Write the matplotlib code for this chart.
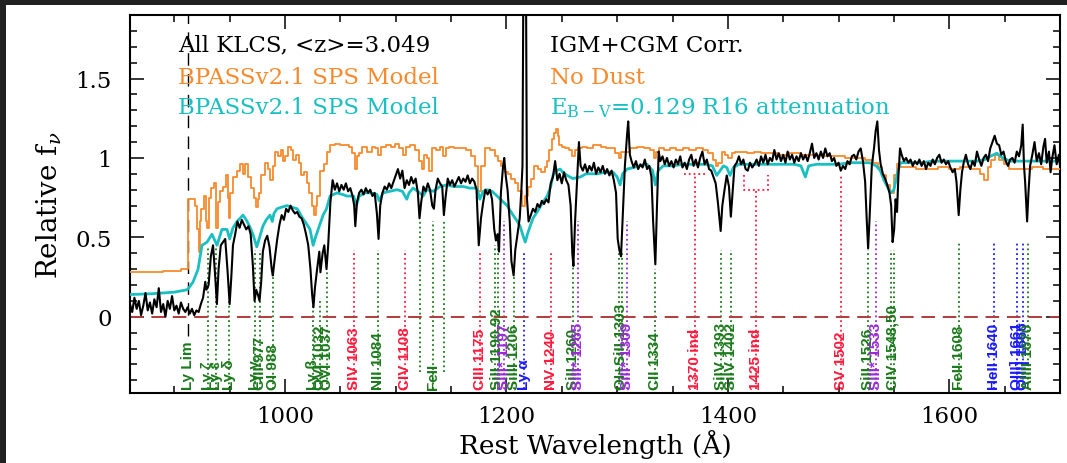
import numpy as np
import matplotlib
matplotlib.use("Agg")
import matplotlib.pyplot as plt
from matplotlib.patches import Rectangle
from matplotlib.ticker import MultipleLocator

plt.rcParams['font.family'] = 'DejaVu Serif'
plt.rcParams['mathtext.fontset'] = 'dejavuserif'

# composite spectrum (IGM+CGM corrected)
wl_obs = [860, 862, 864, 866, 868, 870, 872, 874, 876, 878, 880, 882, 884, 886, 888, 890, 892, 894, 896, 898,
          900, 902, 904, 906, 908, 910, 912, 914, 916, 918, 920, 922, 924, 926, 928, 929, 931, 933, 935, 937,
          938.5, 940, 942, 944, 946, 948, 950, 951.5, 953, 955, 957, 959, 961, 963, 965, 967, 969, 971, 972.5, 974,
          975.5, 977, 978.5, 980, 982, 984, 986, 988, 989, 991, 993, 995, 997, 999, 1001, 1003, 1005, 1007, 1009, 1011,
          1013, 1015, 1017, 1019, 1021, 1023, 1024.5, 1025.7, 1027, 1029, 1031, 1032, 1034, 1035.5, 1037.5, 1039, 1041, 1043, 1045, 1047,
          1049, 1051, 1053, 1055, 1057, 1059, 1061, 1062.5, 1063.5, 1065, 1067, 1069, 1071, 1073, 1075, 1077, 1079, 1081, 1083, 1084.5,
          1086, 1088, 1090, 1092, 1094, 1096, 1098, 1100, 1102, 1104, 1106, 1108, 1110, 1112, 1114, 1116, 1118, 1120, 1121.5, 1123,
          1125, 1127, 1129, 1131, 1133, 1134.5, 1136, 1138, 1140, 1142, 1143.5, 1145, 1147, 1149, 1151, 1153, 1155, 1157, 1159, 1161,
          1163, 1165, 1167, 1169, 1171, 1173, 1175, 1177, 1179, 1181, 1183, 1185, 1187, 1189, 1190.5, 1192, 1193.3, 1195, 1197, 1198,
          1199.5, 1201, 1203, 1204.5, 1206.5, 1208, 1210, 1212, 1213.5, 1214.5, 1215.5, 1217.5, 1218.5, 1220, 1222, 1224, 1226, 1228, 1230, 1232,
          1234, 1236, 1238, 1240, 1242, 1244, 1246, 1248, 1250, 1252, 1254, 1256, 1258, 1259.5, 1260.5, 1262, 1264, 1265.5, 1267, 1269,
          1271, 1273, 1275, 1277, 1279, 1281, 1283, 1285, 1287, 1289, 1291, 1293, 1295, 1297, 1299, 1300.5, 1302, 1303.5, 1305, 1307,
          1309, 1310, 1311.5, 1313, 1315, 1317, 1319, 1321, 1323, 1325, 1327, 1329, 1331, 1332.5, 1334.5, 1336, 1337.5, 1339, 1341, 1343,
          1345, 1347, 1349, 1351, 1353, 1355, 1357, 1359, 1361, 1363, 1365, 1367, 1369, 1371, 1373, 1375, 1377, 1379, 1381, 1383,
          1385, 1387, 1389, 1391, 1393.5, 1395, 1397, 1399, 1401, 1402.7, 1404.5, 1406, 1408, 1410, 1412, 1414, 1416, 1418, 1420, 1422,
          1424, 1426, 1428, 1430, 1432, 1434, 1436, 1438, 1440, 1442, 1444, 1446, 1448, 1450, 1452, 1454, 1456, 1458, 1460, 1462,
          1464, 1466, 1468, 1470, 1472, 1474, 1476, 1478, 1480, 1482, 1484, 1486, 1488, 1490, 1492, 1494, 1496, 1498, 1500, 1502,
          1504, 1506, 1508, 1510, 1512, 1514, 1516, 1518, 1520, 1522, 1524, 1525.5, 1526.7, 1528, 1530, 1532, 1533.5, 1535, 1536.5, 1538,
          1540, 1542, 1544, 1546, 1547.5, 1548.8, 1550.2, 1551.5, 1552.8, 1554, 1555.5, 1557, 1559, 1561, 1563, 1565, 1567, 1569, 1571, 1573,
          1575, 1577, 1579, 1581, 1583, 1585, 1587, 1589, 1591, 1593, 1595, 1597, 1599, 1601, 1603, 1605, 1606.5, 1608.5, 1610, 1611.5,
          1613, 1615, 1617, 1619, 1621, 1623, 1625, 1627, 1629, 1631, 1633, 1635, 1637, 1639, 1641, 1643, 1645, 1647, 1649, 1651,
          1653, 1655, 1657, 1659, 1661, 1663, 1665, 1666.3, 1667.5, 1668.5, 1670.3, 1671.5, 1673, 1675, 1677, 1679, 1681, 1683, 1685, 1686.5,
          1688, 1690, 1691.5, 1693, 1695, 1697, 1699, 1700]
f_obs = [0.08, 0.03, 0.12, 0.05, 0.10, 0.01, 0.07, 0.15, 0.04, 0.09, 0.02, 0.11, 0.06, 0.18, 0.03, 0.08, 0.00, 0.10, 0.05, 0.13,
         0.04, 0.07, 0.02, 0.09, 0.05, 0.03, 0.06, 0.02, 0.05, 0.01, 0.04, 0.03, 0.08, 0.12, 0.22, 0.17, 0.20, 0.38, 0.45, 0.25,
         0.08, 0.30, 0.45, 0.47, 0.49, 0.30, 0.08, 0.25, 0.45, 0.52, 0.60, 0.56, 0.61, 0.58, 0.55, 0.57, 0.52, 0.32, 0.10, 0.17,
         0.14, 0.10, 0.22, 0.41, 0.48, 0.51, 0.44, 0.30, 0.26, 0.38, 0.49, 0.58, 0.64, 0.61, 0.68, 0.66, 0.70, 0.67, 0.65, 0.66,
         0.63, 0.62, 0.58, 0.52, 0.45, 0.30, 0.14, 0.06, 0.18, 0.30, 0.41, 0.28, 0.40, 0.45, 0.30, 0.45, 0.72, 0.86, 0.80, 0.84,
         0.79, 0.83, 0.80, 0.84, 0.79, 0.81, 0.76, 0.70, 0.57, 0.72, 0.78, 0.80, 0.77, 0.81, 0.78, 0.80, 0.76, 0.78, 0.65, 0.49,
         0.70, 0.78, 0.82, 0.80, 0.84, 0.81, 0.85, 0.89, 0.93, 0.87, 0.92, 0.81, 0.86, 0.83, 0.88, 0.84, 0.87, 0.78, 0.62, 0.72,
         0.82, 0.79, 0.84, 0.80, 0.70, 0.68, 0.80, 0.87, 0.84, 0.82, 0.64, 0.75, 0.87, 0.83, 0.86, 0.82, 0.85, 0.88, 0.84, 0.87,
         0.85, 0.89, 0.84, 0.87, 0.85, 0.80, 0.45, 0.62, 0.72, 0.80, 0.77, 0.80, 0.74, 0.55, 0.48, 0.52, 0.41, 0.78, 0.95, 1.00,
         0.88, 0.80, 0.60, 0.35, 0.26, 0.42, 0.52, 0.62, 0.80, 0.95, 2.40, 2.40, 0.75, 0.60, 0.64, 0.68, 0.66, 0.71, 0.69, 0.73,
         0.71, 0.74, 0.72, 0.84, 0.88, 0.98, 0.86, 0.90, 0.84, 0.91, 0.86, 0.83, 0.70, 0.40, 0.32, 0.60, 0.88, 1.10, 0.95, 0.92,
         0.96, 0.91, 0.95, 0.92, 0.97, 0.90, 0.94, 0.91, 0.95, 0.90, 0.93, 0.89, 0.92, 0.86, 0.78, 0.49, 0.42, 0.38, 0.62, 0.95,
         1.15, 1.23, 1.02, 0.98, 0.94, 0.98, 0.93, 0.96, 0.94, 0.99, 0.93, 0.95, 0.88, 0.60, 0.33, 0.70, 1.04, 0.98, 1.01, 0.96,
         1.00, 0.95, 0.98, 0.94, 0.99, 0.96, 1.01, 0.94, 0.97, 0.93, 0.99, 1.02, 0.95, 0.99, 0.94, 1.00, 1.04, 0.96, 0.99, 0.93,
         0.92, 0.88, 0.84, 0.72, 0.54, 0.70, 0.80, 0.89, 0.82, 0.63, 0.80, 0.95, 0.97, 1.01, 0.96, 0.99, 0.93, 0.92, 0.97, 0.94,
         0.96, 0.99, 0.95, 1.01, 0.97, 1.02, 0.96, 1.00, 0.98, 1.05, 0.99, 1.03, 0.98, 1.02, 0.97, 1.04, 0.99, 1.02, 0.97, 1.01,
         0.98, 1.03, 0.99, 1.02, 0.98, 1.03, 1.09, 1.00, 1.03, 0.99, 1.04, 1.00, 1.06, 1.01, 1.03, 0.98, 1.00, 0.95, 0.97, 0.92,
         0.95, 0.93, 0.98, 0.96, 1.01, 1.02, 0.99, 1.04, 1.06, 0.98, 0.85, 0.60, 0.43, 0.62, 0.95, 1.06, 1.17, 1.23, 1.05, 0.96,
         0.90, 0.87, 0.83, 0.78, 0.70, 0.47, 0.55, 0.74, 0.66, 0.88, 1.06, 1.02, 0.98, 1.00, 0.97, 0.99, 0.95, 0.98, 0.96, 0.99,
         0.95, 0.98, 0.93, 0.97, 0.95, 0.99, 0.96, 1.00, 1.02, 0.97, 0.99, 0.96, 0.98, 0.94, 0.91, 0.93, 0.85, 0.64, 0.80, 0.91,
         0.97, 1.02, 0.96, 0.93, 0.98, 0.95, 1.04, 0.99, 0.95, 1.00, 1.02, 0.98, 1.06, 1.10, 1.14, 1.09, 1.08, 1.02, 1.04, 0.98,
         0.95, 0.99, 1.00, 0.97, 1.04, 1.01, 1.08, 1.21, 0.95, 0.85, 0.60, 0.78, 0.95, 1.02, 1.10, 0.98, 1.03, 0.96, 1.07, 1.12,
         0.97, 1.04, 0.91, 1.00, 1.08, 0.96, 1.02, 0.95]

# BPASSv2.1 model, no dust
wl_nodust = [860, 880, 900, 911.5, 912.5, 917, 920, 921.5, 922.5, 924, 925, 928, 929.5, 930.5, 932, 934, 937, 938.6, 940, 943,
             945, 947.6, 949, 950, 951.5, 955, 957.5, 961, 963, 965.6, 968, 971, 973, 974.5, 976, 977.5, 980, 983.6, 985, 988.3,
             990, 992.8, 995, 997, 999, 1001.8, 1004, 1006, 1009, 1011, 1013.6, 1016, 1018, 1021, 1023, 1025.4, 1027, 1028.5, 1030, 1034,
             1036, 1039, 1043, 1048, 1052, 1056, 1060, 1061.6, 1064, 1066, 1068, 1072, 1077, 1080, 1083, 1085, 1088.6, 1093, 1097.6, 1101,
             1105, 1108, 1110, 1115.7, 1120, 1122, 1124.7, 1127, 1129, 1131, 1134, 1138, 1142, 1144, 1146, 1150, 1155, 1161, 1166, 1170,
             1173, 1175.5, 1178, 1182.6, 1188, 1191, 1194, 1197, 1200.6, 1203, 1206, 1209, 1212.4, 1215, 1218.7, 1221, 1223, 1227.7, 1230, 1233,
             1236, 1237.7, 1240, 1242, 1244, 1245.8, 1247, 1248.5, 1251, 1254.9, 1258, 1260.5, 1263, 1266.6, 1270, 1275, 1282, 1288, 1292, 1296.4,
             1300, 1302.7, 1305, 1309, 1315, 1320.8, 1327, 1332, 1334.5, 1336, 1339, 1345, 1350, 1357, 1362, 1368, 1375, 1380, 1385, 1388,
             1390, 1393, 1396, 1399, 1402, 1405, 1408.5, 1415, 1420, 1426.5, 1433, 1441, 1450, 1460, 1471.7, 1480, 1490, 1501.5, 1510, 1520,
             1528.6, 1534, 1537.7, 1541, 1544, 1548.5, 1551, 1554, 1557, 1565, 1575, 1585, 1595, 1605, 1615, 1625, 1630, 1633.5, 1636, 1640,
             1643, 1647, 1652, 1656, 1662, 1670, 1680, 1690, 1700]
f_nodust = [0.28, 0.285, 0.29, 0.30, 0.74, 0.74, 0.70, 0.55, 0.41, 0.60, 0.68, 0.76, 0.60, 0.56, 0.75, 0.81, 0.84, 0.56, 0.72, 0.79,
            0.82, 0.89, 0.75, 0.62, 0.78, 0.88, 0.92, 0.96, 0.90, 0.96, 0.88, 0.81, 0.75, 0.69, 0.74, 0.78, 0.89, 0.97, 0.93, 0.86,
            0.95, 1.04, 1.01, 1.05, 0.98, 1.01, 1.07, 1.05, 0.99, 1.02, 0.97, 0.89, 0.91, 0.84, 0.78, 0.70, 0.64, 0.70, 0.76, 0.92,
            0.96, 1.04, 1.08, 1.09, 1.08, 1.08, 1.07, 1.03, 0.93, 1.01, 1.03, 1.07, 1.04, 1.07, 1.06, 1.02, 1.07, 1.08, 1.07, 1.09,
            1.06, 1.02, 1.07, 1.08, 1.05, 0.98, 0.93, 1.02, 1.00, 0.92, 1.06, 1.05, 1.07, 1.01, 1.06, 1.07, 1.06, 1.06, 1.05, 1.01,
            0.95, 0.79, 0.95, 1.06, 1.05, 1.01, 0.98, 0.95, 0.91, 0.90, 0.87, 0.84, 0.79, 0.70, 0.76, 0.82, 0.87, 0.95, 0.93, 0.91,
            0.94, 0.98, 1.05, 1.12, 1.16, 1.18, 1.14, 1.08, 1.07, 1.06, 1.05, 1.01, 1.05, 1.06, 1.07, 1.06, 1.08, 1.07, 1.06, 1.06,
            1.03, 1.00, 1.04, 1.04, 1.06, 1.07, 1.06, 1.05, 1.00, 1.04, 1.06, 1.05, 1.06, 1.05, 1.06, 1.05, 1.06, 1.05, 1.03, 0.99,
            0.95, 0.97, 1.04, 1.02, 1.00, 1.03, 1.04, 1.04, 1.03, 1.04, 1.03, 1.03, 1.02, 1.03, 1.02, 1.02, 1.01, 1.01, 1.00, 1.00,
            0.99, 0.97, 0.94, 0.89, 0.83, 0.78, 0.89, 0.96, 0.94, 0.94, 0.93, 0.93, 0.94, 0.93, 0.94, 0.93, 0.90, 0.86, 0.94, 0.99,
            1.02, 0.99, 0.96, 0.93, 0.93, 0.93, 0.94, 0.93, 0.93]

# BPASSv2.1 model, E(B-V)=0.129 R16 attenuation
wl_dust = [860, 880, 900, 911.5, 913, 917, 921.5, 925, 929.6, 934, 938.6, 943, 947.6, 950, 953, 956.7, 962, 965, 968, 971,
           974.5, 977, 980, 983, 986.5, 988.5, 990, 992.8, 997, 1001.8, 1006, 1011, 1016, 1019, 1022.6, 1025.4, 1027.5, 1030, 1034.4, 1037.5,
           1040.7, 1047, 1052, 1056, 1062, 1064.5, 1067, 1072, 1077, 1083, 1085, 1088.6, 1095, 1101, 1106, 1110, 1112, 1115.7, 1120, 1124.7,
           1128, 1134, 1140, 1146, 1152, 1161, 1167, 1173.5, 1176, 1179, 1182.6, 1187, 1191.6, 1196, 1200.6, 1206, 1209, 1212.4, 1215, 1217,
           1219, 1221.4, 1224, 1227.7, 1232, 1236.8, 1240, 1242, 1245, 1248.5, 1251, 1254.9, 1260, 1266.6, 1272, 1282, 1290, 1296.4, 1300, 1302.7,
           1305, 1309, 1315, 1320, 1327, 1332, 1334.5, 1337, 1341.6, 1350, 1360, 1370, 1380, 1386, 1390, 1393, 1396, 1399, 1402, 1405,
           1410, 1420, 1430, 1440, 1450, 1460, 1466, 1470, 1473, 1480, 1490, 1500, 1510, 1520, 1528, 1534, 1537.7, 1541, 1544, 1547,
           1550, 1553, 1556, 1565, 1575, 1585, 1595, 1605, 1615, 1625, 1632, 1637, 1643, 1648, 1655, 1665, 1675, 1685, 1700]
f_dust = [0.14, 0.145, 0.155, 0.17, 0.18, 0.22, 0.30, 0.45, 0.47, 0.52, 0.45, 0.55, 0.55, 0.49, 0.56, 0.60, 0.64, 0.61, 0.57, 0.52,
          0.44, 0.50, 0.57, 0.61, 0.64, 0.60, 0.65, 0.68, 0.69, 0.70, 0.69, 0.68, 0.62, 0.59, 0.55, 0.45, 0.50, 0.55, 0.64, 0.68,
          0.76, 0.78, 0.77, 0.76, 0.76, 0.70, 0.76, 0.78, 0.78, 0.77, 0.73, 0.78, 0.79, 0.80, 0.79, 0.74, 0.78, 0.81, 0.79, 0.76,
          0.80, 0.79, 0.82, 0.83, 0.82, 0.82, 0.81, 0.81, 0.74, 0.79, 0.80, 0.79, 0.76, 0.73, 0.70, 0.64, 0.61, 0.57, 0.51, 0.47,
          0.52, 0.57, 0.62, 0.66, 0.71, 0.76, 0.82, 0.89, 0.92, 0.93, 0.91, 0.89, 0.87, 0.88, 0.90, 0.90, 0.91, 0.91, 0.88, 0.83,
          0.90, 0.93, 0.94, 0.95, 0.96, 0.92, 0.83, 0.92, 0.95, 0.95, 0.96, 0.96, 0.96, 0.95, 0.89, 0.92, 0.95, 0.94, 0.89, 0.94,
          0.96, 0.96, 0.96, 0.96, 0.96, 0.96, 0.95, 0.88, 0.95, 0.96, 0.96, 0.96, 0.97, 0.97, 0.97, 0.95, 0.92, 0.86, 0.82, 0.78,
          0.80, 0.90, 0.97, 0.97, 0.97, 0.98, 0.98, 0.98, 0.98, 0.98, 0.99, 1.01, 1.03, 1.00, 0.98, 0.98, 0.98, 0.98, 0.98]

# spectral line markers: wavelength, label, colour key, top of dotted line
line_wl = [930.7, 937.8, 949.7, 972.5, 977.0, 988.8, 1025.7, 1031.9, 1037.6, 1062.7, 1084.0, 1108.4, 1122.0, 1134.0, 1144.0,
           1175.7, 1191.0, 1197.4, 1206.5, 1215.7, 1240.0, 1260.4, 1265.0, 1303.3, 1309.3, 1334.5, 1370.0, 1393.8, 1402.8, 1425.0,
           1501.8, 1526.7, 1533.4, 1549.0, 1608.5, 1640.4, 1661.0, 1666.2, 1670.8]
line_lab = ["Ly ζ", "Ly ε", "Ly δ", "Ly γ", "CIII 977", "OI 988", "Ly β", "OVI 1032", "OVI 1037", "SIV 1063", "NII 1084",
            "CIV 1108", "", "FeII", "", "CIII 1175", "SiII 1190,92", "SiII* 1197", "SiIII 1206", "Ly α", "NV 1240", "SiII 1260",
            "SiII* 1265", "OI+SiII 1303", "SiII* 1309", "CII 1334", "1370 ind", "SiIV 1393", "SiIV 1402", "1425 ind",
            "SV 1502", "SiII 1526", "SiII* 1533", "CIV 1548,50", "FeII 1608", "HeII 1640", "OIII] 1661", "OIII] 1666", "AlIII 1670"]
line_kind = ["g", "g", "g", "g", "g", "g", "g", "g", "g", "r", "g", "r", "g", "g", "g", "r", "g", "p", "g", "b", "r", "g",
             "p", "g", "p", "g", "r", "g", "g", "r", "r", "g", "p", "g", "g", "b", "b", "b", "g"]
line_top = [0.43, 0.43, 0.10, 0.42, 0.42, 0.28, 0.10, 0.12, 0.28, 0.42, 0.42, 0.42, 0.60, 0.60, 0.60, 0.41, 0.45, 0.60, 0.26,
            0.41, 0.41, 0.33, 0.60, 0.41, 0.60, 0.30, 0.90, 0.42, 0.42, 0.80, 0.89, 0.42, 0.60, 0.42, 0.47, 0.47, 0.47, 0.47, 0.47]

kind_col = {"g": "#1b7a1b", "r": "#ff1a3c", "p": "#9a2ad8", "b": "#1a1aff"}
c_orange = "#f78a2d"
c_cyan = "#1abfc2"

fig = plt.figure(figsize=(10.67, 4.64), dpi=100)
fig.patch.set_facecolor("#212121")
fig.add_artist(Rectangle((6 / 1067, 0), 1, (464 - 6) / 464, transform=fig.transFigure,
                         facecolor="white", edgecolor="none", zorder=-1))
ax = fig.add_axes([130 / 1067, 70 / 464, 930 / 1067, 378 / 464])

ax.plot(wl_nodust, f_nodust, color=c_orange, lw=1.3, drawstyle="steps-mid", zorder=3)
ax.plot(wl_dust, f_dust, color=c_cyan, lw=2.0, zorder=4)
ax.plot(wl_obs, f_obs, color="black", lw=1.5, zorder=5)

ax.axhline(0, color="#b23a3a", lw=1.4, ls=(0, (7, 4)), zorder=2)
ax.plot([912, 912], [-0.12, 1.9], color="black", lw=1.0, ls=(0, (9, 6)), zorder=2)

lab_bot = -0.455
for w, lab, k, top in zip(line_wl, line_lab, line_kind, line_top):
    col = kind_col[k]
    bot = lab_bot if lab else -0.35
    if lab.endswith(",92") or lab.endswith(",50") or lab.startswith("OI+"):
        # doublets get two dotted lines
        for dw in (-1.3, 1.3):
            ax.plot([w + dw, w + dw], [bot, top], color=col, lw=1.3, ls=":", zorder=1)
    else:
        ax.plot([w, w], [bot, top], color=col, lw=1.3, ls=":", zorder=1)
    if lab:
        ax.text(w, lab_bot, lab, rotation=90, ha="center", va="bottom", color=col,
                family="Liberation Sans", fontweight="bold", fontsize=11, zorder=6)

ax.text(912, lab_bot, "Ly Lim", rotation=90, ha="center", va="bottom", color=kind_col["g"],
        family="Liberation Sans", fontweight="bold", fontsize=11, zorder=6)

# brackets for the blended "ind" features
ax.plot([1360.5, 1379.5], [0.90, 0.90], color=kind_col["r"], lw=1.3, ls=":", zorder=1)
ax.plot([1414.8, 1414.8, 1436.2, 1436.2], [0.895, 0.80, 0.80, 0.895], color=kind_col["r"], lw=1.3, ls=":", zorder=1)

ax.set_xlim(860, 1700)
ax.set_ylim(-0.48, 1.9)
ax.xaxis.set_major_locator(MultipleLocator(200))
ax.xaxis.set_minor_locator(MultipleLocator(50))
ax.set_yticks([0, 0.5, 1, 1.5])
ax.set_yticklabels(["0", "0.5", "1", "1.5"])
ax.yaxis.set_minor_locator(MultipleLocator(0.1))
ax.tick_params(which="both", direction="in", top=True, right=True, width=1.1, labelsize=16.5)
ax.tick_params(which="major", length=10, pad=9)
ax.tick_params(which="minor", length=5)
ax.tick_params(axis="y", which="major", pad=13)
for s in ax.spines.values():
    s.set_linewidth(1.5)

ax.set_xlabel("Rest Wavelength (Å)", fontsize=19, labelpad=1)
ax.set_ylabel(r"Relative f$_\nu$", fontsize=20, labelpad=8)

ax.text(0.052, 0.905, "All KLCS, <z>=3.049", transform=ax.transAxes, fontsize=16.5, color="black")
ax.text(0.052, 0.819, "BPASSv2.1 SPS Model", transform=ax.transAxes, fontsize=16.5, color=c_orange)
ax.text(0.052, 0.741, "BPASSv2.1 SPS Model", transform=ax.transAxes, fontsize=16.5, color=c_cyan)
ax.text(0.452, 0.905, "IGM+CGM Corr.", transform=ax.transAxes, fontsize=16.5, color="black")
ax.text(0.452, 0.819, "No Dust", transform=ax.transAxes, fontsize=16.5, color=c_orange)
ax.text(0.452, 0.741, r"E$_{\rm B-V}$=0.129 R16 attenuation", transform=ax.transAxes, fontsize=16.5, color=c_cyan)

fig.savefig("out.png", dpi=100, facecolor=fig.get_facecolor())
